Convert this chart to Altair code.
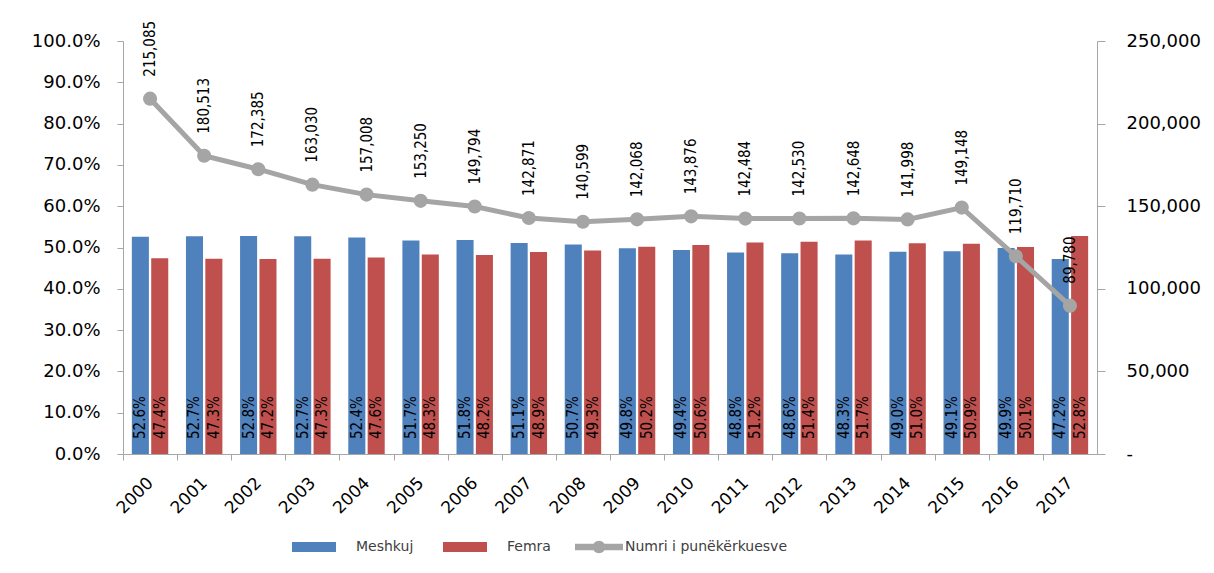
import altair as alt
import pandas as pd

years = [str(y) for y in range(2000, 2018)]
male_share = [52.6, 52.7, 52.8, 52.7, 52.4, 51.7, 51.8, 51.1, 50.7, 49.8,
              49.4, 48.8, 48.6, 48.3, 49.0, 49.1, 49.9, 47.2]
female_share = [47.4, 47.3, 47.2, 47.3, 47.6, 48.3, 48.2, 48.9, 49.3, 50.2,
                50.6, 51.2, 51.4, 51.7, 51.0, 50.9, 50.1, 52.8]
jobseekers = [215085, 180513, 172385, 163030, 157008, 153250, 149794, 142871,
              140599, 142068, 143876, 142484, 142530, 142648, 141998, 149148,
              119710, 89780]
sexes = ["Meshkuj", "Femra"]
line_name = "Numri i punëkërkuesve"

bars_df = pd.DataFrame({
    "year": years * 2,
    "sex": [sexes[0]] * len(years) + [sexes[1]] * len(years),
    "share": [v / 100 for v in male_share] + [v / 100 for v in female_share],
    "base": [0.0] * (2 * len(years)),
})
line_df = pd.DataFrame({"year": years, "count": jobseekers,
                        "series": [line_name] * len(years)})

W, H = 974, 413
step = W / 18
AX = "#A6A6A6"
NARROW = "DejaVu Sans Condensed, Liberation Sans Narrow, Arial Narrow, sans-serif"

x_enc = alt.X(
    "year:O", title=None,
    scale=alt.Scale(paddingInner=0.327, paddingOuter=0.1635),
    axis=alt.Axis(labelAngle=-45, labelAlign="right", labelBaseline="middle",
                  labelFont="DejaVu Sans", labelFontSize=17, labelColor="#000",
                  labelPadding=20, tickSize=6, tickColor=AX, domainColor=AX,
                  tickOffset=-step / 2, labelOffset=step / 2,
                  labelOverlap=False, grid=False),
)
xoff = alt.XOffset("sex:N", scale=alt.Scale(domain=sexes, paddingInner=0.12,
                                            paddingOuter=0))
left_axis = alt.Axis(format=".1%", tickCount=10, labelFont="DejaVu Sans",
                     labelFontSize=18, labelColor="#000", labelPadding=17,
                     tickSize=6, tickColor=AX, domainColor=AX, grid=False)
left_scale = alt.Scale(domain=[0, 1])

bars = alt.Chart(bars_df).mark_bar().encode(
    x=x_enc,
    xOffset=xoff,
    y=alt.Y("share:Q", title=None, scale=left_scale, axis=left_axis),
    fill=alt.Fill("sex:N",
                  scale=alt.Scale(domain=sexes, range=["#4F81BD", "#C0504D"]),
                  legend=alt.Legend(title=None, orient="none", legendX=169,
                                    legendY=484, direction="horizontal",
                                    symbolType="M-1,-0.23H1V0.23H-1Z",
                                    symbolSize=1936, symbolStrokeWidth=0,
                                    labelOffset=20, columnPadding=29,
                                    labelFont="DejaVu Sans", labelFontSize=14,
                                    labelColor="#404040", labelLimit=400)),
)
bar_labels = alt.Chart(bars_df).mark_text(
    angle=270, align="left", baseline="middle", dx=15, font=NARROW,
    fontSize=15, color="#000"
).encode(
    x=x_enc,
    xOffset=xoff,
    y=alt.Y("base:Q", title=None, scale=left_scale, axis=left_axis),
    text=alt.Text("share:Q", format=".1%"),
)
left = alt.layer(bars, bar_labels)

right_scale = alt.Scale(domain=[0, 250000])
right_axis = alt.Axis(orient="right", tickCount=5,
                      labelExpr="datum.value == 0 ? '-' : format(datum.value, ',')",
                      labelFont="DejaVu Sans", labelFontSize=18, labelColor="#000",
                      labelPadding=21, tickSize=8, tickColor=AX, domainColor=AX,
                      grid=False)
y_right = alt.Y("count:Q", title=None, scale=right_scale, axis=right_axis)

line = alt.Chart(line_df).mark_line(color="#A5A5A5", strokeWidth=5).encode(
    x=x_enc, y=y_right)
points = alt.Chart(line_df).mark_circle(size=200, opacity=1).encode(
    x=x_enc, y=y_right,
    color=alt.Color("series:N", scale=alt.Scale(domain=[line_name], range=["#A5A5A5"]),
                    legend=alt.Legend(title=None, orient="none", legendX=452,
                                      legendY=482,
                                      symbolType="M-1,-0.14H1V0.14H-1Z M0.26,0A0.26,0.26 0 1 1 -0.26,0A0.26,0.26 0 1 1 0.26,0Z",
                                      symbolSize=2304, symbolStrokeWidth=0,
                                      labelOffset=2, labelFont="DejaVu Sans",
                                      labelFontSize=14, labelColor="#404040",
                                      labelLimit=400)),
)
line_labels = alt.Chart(line_df).mark_text(
    angle=270, align="left", baseline="middle", dx=22, font=NARROW,
    fontSize=15, color="#000"
).encode(x=x_enc, y=y_right, text=alt.Text("count:Q", format=","))
right = alt.layer(line, points, line_labels)

chart = alt.layer(left, right).resolve_scale(
    y="independent", fill="independent", color="independent"
).properties(
    width=W, height=H, autosize="none",
    padding={"left": 115, "top": 33, "right": 105, "bottom": 110},
).configure_view(stroke=None)

chart.save("out.html", embed_options={"renderer": "svg", "actions": False})
